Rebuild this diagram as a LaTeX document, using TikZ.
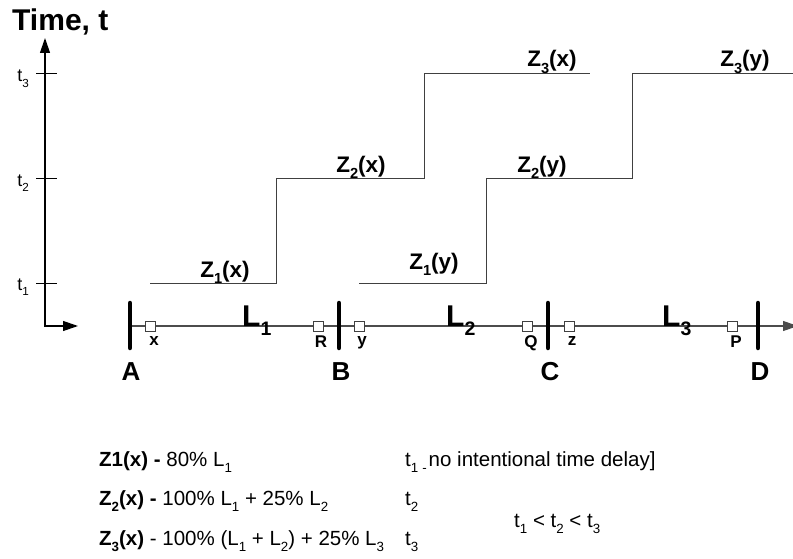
\documentclass[tikz,border=0pt]{standalone}
\usepackage{fontspec}
\setmainfont{Liberation Sans}
\usetikzlibrary{arrows.meta}
\newcommand{\lo}[1]{\raisebox{-.3em}{\scalebox{.65}{#1}}}
\tikzset{
  tip/.style={-{Triangle[length=15pt,width=10pt]}},
  busbar/.style={line width=4.5pt, line cap=round},
  relay/.style={draw=black!75, fill=white, line width=.9pt, minimum size=10pt, inner sep=0pt},
  relaytxt/.style={font=\fontsize{17}{20}\selectfont\bfseries, inner sep=0pt, anchor=base},
  bustxt/.style={font=\fontsize{26}{31}\selectfont\bfseries, inner sep=0pt, anchor=base},
  linetxt/.style={font=\fontsize{30}{36}\selectfont\bfseries, inner sep=0pt, anchor=base west},
  zonetxt/.style={font=\fontsize{22.5}{27}\selectfont\bfseries, inner sep=0pt, anchor=base},
  ticktxt/.style={font=\fontsize{18}{21}\selectfont, inner sep=0pt, anchor=base east},
  rowtxt/.style={font=\fontsize{20.5}{24}\selectfont, inner sep=0pt, anchor=base west},
  stepline/.style={draw=black!75, line width=1pt}
}
\begin{document}
\begin{tikzpicture}[x=1pt, y=-1pt]
    \useasboundingbox (0,0) rectangle (793,559);
    % Time axis
    \node[font=\fontsize{30}{36}\selectfont\bfseries, inner sep=0pt, anchor=base west] (title) at (12,31) {Time, t};
    \draw[line width=1.2pt, {Triangle[length=15pt,width=10pt]}-{Triangle[length=15pt,width=10pt]}] (45,38) -- (45,326) -- (78,326);
    \draw[line width=1pt] (36,74) -- (57,74);
    \draw[line width=1pt] (36,179) -- (57,179);
    \draw[line width=1pt] (36,283) -- (57,283);
    \node[ticktxt] (tt3) at (29,82) {t\lo{3}};
    \node[ticktxt] (tt2) at (29,186) {t\lo{2}};
    \node[ticktxt] (tt1) at (29,290) {t\lo{1}};

    % Line and bus bars
    \coordinate (A) at (130,326); \coordinate (B) at (339,326);
    \coordinate (C) at (548,326); \coordinate (D) at (758,326);
    \coordinate (end) at (798,326);
    \draw[draw=black!70, line width=1.1pt, tip] (A) -- (end);
    \draw[busbar] (130,303) -- (130,348);
    \draw[busbar] (339,303) -- (339,348);
    \draw[busbar] (548,303) -- (548,348);
    \draw[busbar] (758,303) -- (758,348);
    \node[bustxt] (nA) at (131,380) {A};
    \node[bustxt] (nB) at (341,380) {B};
    \node[bustxt] (nC) at (550,380) {C};
    \node[bustxt] (nD) at (760,380) {D};
    \node[linetxt] (L1) at (242,326) {L\lo{1}};
    \node[linetxt] (L2) at (446,326) {L\lo{2}};
    \node[linetxt] (L3) at (662,326) {L\lo{3}};

    % Relays
    \node[relay] (rx) at (150,326) {};
    \node[relay] (rR) at (318,326) {};
    \node[relay] (ry) at (359,326) {};
    \node[relay] (rQ) at (527,326) {};
    \node[relay] (rz) at (569,326) {};
    \node[relay] (rP) at (732,326) {};
    \node[relaytxt] (lx) at (154,345) {x};
    \node[relaytxt] (lR) at (321,347) {R};
    \node[relaytxt] (ly) at (362,345) {y};
    \node[relaytxt] (lQ) at (531,347) {Q};
    \node[relaytxt] (lz) at (572,345) {z};
    \node[relaytxt] (lP) at (736,347) {P};

    % Zone steps
    \draw[stepline] (150,283) -- (276,283) -- (276,179) -- (424,179) -- (424,74) -- (590,74);
    \draw[stepline] (359,283) -- (486,283) -- (486,179) -- (632,179) -- (632,74) -- (793,74);
    \node[zonetxt] (z1x) at (225,277) {Z\lo{1}(x)};
    \node[zonetxt] (z2x) at (361,172) {Z\lo{2}(x)};
    \node[zonetxt] (z3x) at (552,67) {Z\lo{3}(x)};
    \node[zonetxt] (z1y) at (434,269) {Z\lo{1}(y)};
    \node[zonetxt] (z2y) at (542,172) {Z\lo{2}(y)};
    \node[zonetxt] (z3y) at (745,67) {Z\lo{3}(y)};

    % Settings
    \node[rowtxt] (row1) at (99,466) {\textbf{Z1(x) -} 80\% L\lo{1}};
    \node[rowtxt] (row2) at (99,505) {\textbf{Z\lo{2}(x) -} 100\% L\lo{1} + 25\% L\lo{2}};
    \node[rowtxt] (row3) at (99,545) {\textbf{Z\lo{3}(x)} - 100\% (L\lo{1} + L\lo{2}) + 25\% L\lo{3}};
    \node[rowtxt] (time1) at (405,466) {t\lo{1}\hspace{4pt}\lo{-}\hspace{2pt}no intentional time delay]};
    \node[rowtxt] (time2) at (405,505) {t\lo{2}};
    \node[rowtxt] (time3) at (405,545) {t\lo{3}};
    \node[rowtxt] (order) at (514,527) {t\lo{1} < t\lo{2} < t\lo{3}};
\end{tikzpicture}
\end{document}
